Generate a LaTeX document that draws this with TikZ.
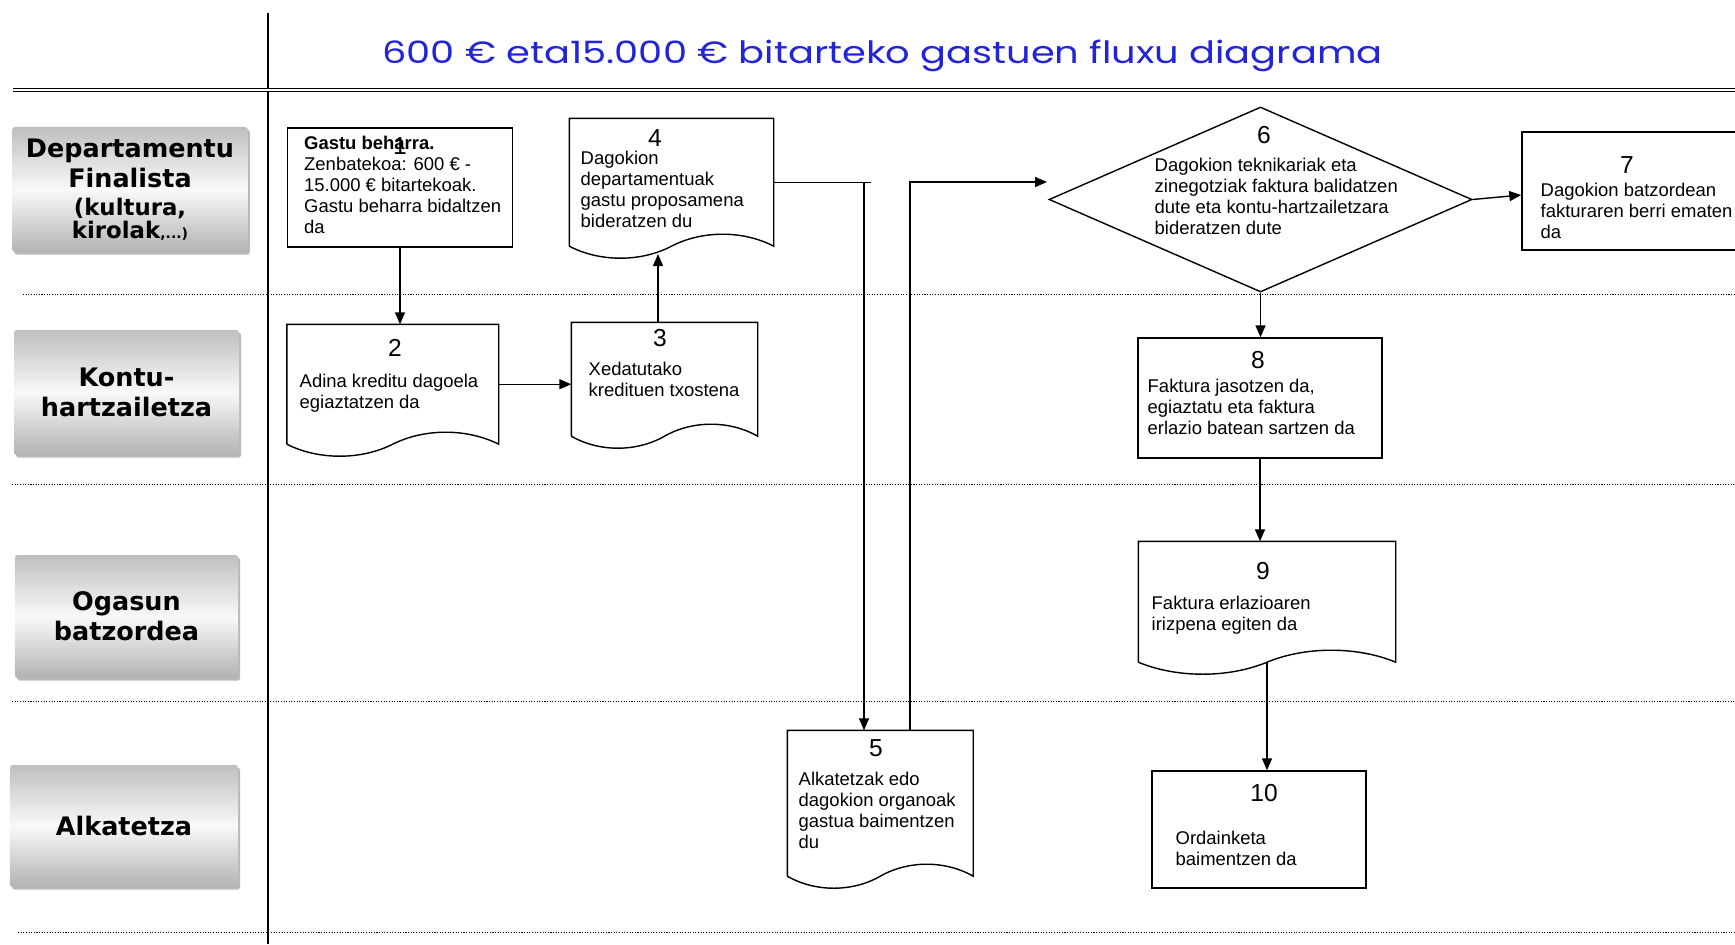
\documentclass[tikz,border=0pt]{standalone}
\usepackage{fontspec}
\setmainfont{Liberation Sans}
\newfontfamily\lanefont{DejaVu Sans}
\newfontfamily\headfont{Poppins}
\usetikzlibrary{shapes.geometric, shadows, arrows.meta, calc}
\definecolor{headblue}{RGB}{35,35,215}

\begin{document}
\begin{tikzpicture}[
    >={Triangle[length=2.4mm, width=2mm]},
    line width=0.8pt,
    lane/.style = {rectangle, rounded corners=1.5pt, top color=gray!50,
    bottom color=gray!60, middle color=gray!5, align=center,
    drop shadow={shadow xshift=1.2pt, shadow yshift=-1.5pt, opacity=0.55},
    font=\lanefont\bfseries\fontsize{14.5}{17}\selectfont},
    stepbox/.style = {rectangle, draw, inner sep=0pt},
    docbox/.style = {rectangle, inner sep=0pt,
    append after command={\pgfextra{
    \draw (\tikzlastnode.south west) -- (\tikzlastnode.north west)
    -- (\tikzlastnode.north east) -- (\tikzlastnode.south east)
    .. controls ($(\tikzlastnode.south east)!0.3!(\tikzlastnode.south)+(0,0.32)$)
    and ($(\tikzlastnode.south)!0.3!(\tikzlastnode.south east)+(0,0.32)$)
    .. (\tikzlastnode.south)
    .. controls ($(\tikzlastnode.south)!0.3!(\tikzlastnode.south west)-(0,0.32)$)
    and ($(\tikzlastnode.south west)!0.3!(\tikzlastnode.south)-(0,0.32)$)
    .. (\tikzlastnode.south west);}}},
    decision/.style = {diamond, draw, inner sep=0pt},
    txt/.style = {anchor=north west, inner sep=0pt, align=left,
    font=\fontsize{10.5}{12}\selectfont},
    num/.style = {inner sep=0pt, font=\fontsize{14}{16}\selectfont},
    heading/.style = {anchor=base, inner sep=0pt, text=headblue,
    font=\headfont\fontsize{17.5}{21}\selectfont},
    sep/.style = {line width=0.5pt, dash pattern=on 0.6pt off 0.9pt},
]
\useasboundingbox (0,0) rectangle (34.7,-18.88);

% frame of the sheet
\node[heading] (head) at (17.65,-1.27) {\resizebox{20cm}{\height}{600 € eta15.000 € bitarteko gastuen fluxu diagrama}};
\draw [line width=0.9pt] (5.36,-0.26) -- (5.36,-18.88);
\draw [double, double distance=1pt, line width=0.5pt] (0.26,-1.8) -- (34.7,-1.8);
\draw [sep] (0.46,-5.88) -- (34.7,-5.88);
\draw [sep] (0.24,-9.68) -- (34.7,-9.68);
\draw [sep] (0.24,-14.02) -- (34.7,-14.02);
\draw [sep] (0.36,-18.64) -- (34.7,-18.64);

% lanes
\node[lane, minimum width=4.71cm, minimum height=2.5cm] (dept) at (2.6,-3.79)
    {Departamentu\\Finalista\\[-1pt]{\fontsize{13}{15}\selectfont (kultura,}\\[-4pt]{\fontsize{13}{15}\selectfont kirolak}{\fontsize{8}{9}\selectfont ,...)}};
\node[lane, minimum width=4.5cm, minimum height=2.5cm] (kontu) at (2.53,-7.85) {Kontu-\\hartzailetza};
\node[lane, minimum width=4.46cm, minimum height=2.46cm] (ogasun) at (2.53,-12.33) {Ogasun\\batzordea};
\node[lane, minimum width=4.56cm, minimum height=2.44cm] (alkate) at (2.48,-16.52) {Alkatetza};

% steps
\node[stepbox, minimum width=4.5cm, minimum height=2.38cm] (n1) at (8.0,-3.75) {};
\node[docbox, minimum width=4.21cm, minimum height=2.37cm] (n2) at (7.855,-7.685) {};
\node[docbox, minimum width=3.7cm, minimum height=2.25cm] (n3) at (13.29,-7.585) {};
\node[docbox, minimum width=4.06cm, minimum height=2.53cm] (n4) at (13.43,-3.645) {};
\node[docbox, minimum width=3.69cm, minimum height=2.89cm] (n5) at (17.605,-16.065) {};
\node[decision, minimum width=8.46cm, minimum height=3.7cm] (n6) at (25.21,-3.99) {};
\node[stepbox, minimum width=4.46cm, minimum height=2.36cm] (n7) at (32.67,-3.82) {};
\node[stepbox, minimum width=4.88cm, minimum height=2.4cm] (n8) at (25.2,-7.96) {};
\node[docbox, minimum width=5.12cm, minimum height=2.39cm] (n9) at (25.34,-12.035) {};
\node[stepbox, minimum width=4.28cm, minimum height=2.34cm] (n10) at (25.18,-16.59) {};

\node[txt] (t1) at (6.07,-2.7) {\textbf{Gastu beharra.}\\Zenbatekoa: 600 € -\\15.000 € bitartekoak.\\Gastu beharra bidaltzen\\da};
\node[txt] (t2) at (5.98,-7.46) {Adina kreditu dagoela\\egiaztatzen da};
\node[txt] (t3) at (11.76,-7.22) {Xedatutako\\kredituen txostena};
\node[txt] (t4) at (11.6,-3.0) {Dagokion\\departamentuak\\gastu proposamena\\bideratzen du};
\node[txt] (t5) at (15.96,-15.42) {Alkatetzak edo\\dagokion organoak\\gastua baimentzen\\du};
\node[txt] (t6) at (23.08,-3.14) {Dagokion teknikariak eta\\zinegotziak faktura balidatzen\\dute eta kontu-hartzailetzara\\bideratzen dute};
\node[txt] (t7) at (30.8,-3.64) {Dagokion batzordean\\fakturaren berri ematen\\da};
\node[txt] (t8) at (22.94,-7.56) {Faktura jasotzen da,\\egiaztatu eta faktura\\erlazio batean sartzen da};
\node[txt] (t9) at (23.02,-11.9) {Faktura erlazioaren\\irizpena egiten da};
\node[txt] (t10) at (23.5,-16.6) {Ordainketa\\baimentzen da};

\node[num] (no1) at (8.0,-2.92) {1};
\node[num] (no2) at (7.9,-6.96) {2};
\node[num] (no3) at (13.2,-6.76) {3};
\node[num] (no4) at (13.1,-2.76) {4};
\node[num] (no5) at (17.52,-14.96) {5};
\node[num] (no6) at (25.28,-2.7) {6};
\node[num] (no7) at (32.54,-3.3) {7};
\node[num] (no8) at (25.16,-7.2) {8};
\node[num] (no9) at (25.26,-11.42) {9};
\node[num] (no10) at (25.28,-15.86) {10};

% connectors
\coordinate (w4) at (13.16,-5.08);
\coordinate (k45) at (17.28,-3.66);
\coordinate (k56) at (18.2,-3.64);
\coordinate (e6) at (20.94,-3.64);
\draw[->] (n1.south) -- (n1.south |- n2.north);
\draw[->] (n2.east) -- (n2.east -| n3.west);
\draw[->] (n3.north -| w4) -- (w4);
\draw (n4.east) -- ++(1.94,0);
\draw[->] (n4.east -| k45) -- (k45 |- n5.north);
\draw[->] (n5.north -| k56) -- (k56) -- (e6);
\draw[->] (n6.east) -- ([yshift=-0.08cm]n7.west);
\draw[->] (n6.south) -- (n6.south |- n8.north);
\draw[->] (n8.south) -- (n8.south |- n9.north);
\draw[->] (n9.south) -- (n9.south |- n10.north);
\end{tikzpicture}
\end{document}
